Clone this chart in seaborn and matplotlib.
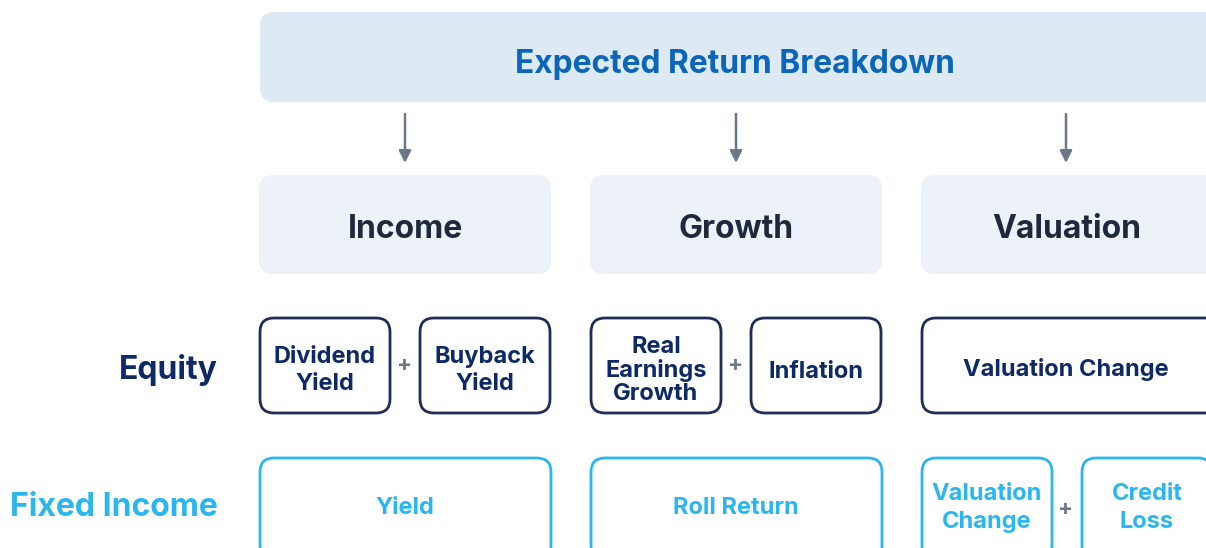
import matplotlib
matplotlib.use("Agg")
import matplotlib.pyplot as plt
from matplotlib.patches import FancyBboxPatch
import seaborn as sns

sns.set_theme(style="white")
plt.rcParams['font.family'] = ['Inter', 'DejaVu Sans']

# ---- content ----
title = "Expected Return Breakdown"
categories = ["Income", "Growth", "Valuation"]
row_labels = ["Equity", "Fixed Income"]
equity_items = [["Dividend\nYield", "Buyback\nYield"],
                ["Real\nEarnings\nGrowth", "Inflation"],
                ["Valuation Change"]]
fixed_items = [["Yield"], ["Roll Return"], ["Valuation\nChange", "Credit\nLoss"]]

# ---- styles ----
C_TITLE = "#0B65B8"
C_BANNER = "#DDE9F3"
C_CAT_BG = "#EDF2F9"
C_CAT_TXT = "#1E2A3B"
C_NAVY = "#0E2A66"
C_NAVY_EDGE = "#1F2D57"
C_SKY = "#2AB6EE"
C_GREY = "#6B7888"
FW = "bold"

W, H = 1206, 548
fig = plt.figure(figsize=(W / 100, H / 100), dpi=100)
ax = fig.add_axes([0, 0, 1, 1])
ax.set_xlim(0, W)
ax.set_ylim(H, 0)
ax.axis("off")

def rbox(x0, y0, x1, y1, fc, ec, lw, r):
    p = FancyBboxPatch((x0 + r, y0 + r), (x1 - x0) - 2 * r, (y1 - y0) - 2 * r,
                       boxstyle=f"round,pad={r}", fc=fc, ec=ec, lw=lw,
                       mutation_aspect=1, clip_on=True)
    ax.add_patch(p)

# banner
rbox(260, 12, 1230, 102, C_BANNER, "none", 0, 14)
ax.text(735, 64, title, ha="center", va="center", fontsize=22.8, fontweight=FW,
        color=C_TITLE)

col_x = [(259, 551), (590, 882), (921, 1230)]
centers = [405, 736, 1066]

for (x0, x1), cx, cat in zip(col_x, centers, categories):
    ax.annotate("", xy=(cx, 163), xytext=(cx, 114),
                arrowprops=dict(arrowstyle="-|>,head_length=0.6,head_width=0.3",
                                color=C_GREY, lw=1.8, shrinkA=0, shrinkB=0))
    rbox(x0, 175, x1, 274, C_CAT_BG, "none", 0, 14)
    ax.text((x0 + min(x1, 1212)) / 2, 229, cat, ha="center", va="center",
            fontsize=23, fontweight=FW, color=C_CAT_TXT)

def row(items, y0, y1, ec, tc, linesp, ls3, dy_single, dy_multi, dy_one):
    for (x0, x1), cx, its in zip(col_x, centers, items):
        ym = (y0 + y1) / 2
        if len(its) == 1:
            rbox(x0 + 1, y0, x1, y1, "white", ec, 2.0, 14)
            ax.text((x0 + min(x1, 1210)) / 2, ym + dy_single, its[0], ha="center",
                    va="center", fontsize=17, fontweight=FW, color=tc)
        else:
            w = 130
            pos = [(x0 + 1, x0 + 1 + w), (x0 + 161, x0 + 161 + w)]
            for (a, b), t in zip(pos, its):
                n = t.count("\n") + 1
                ls = ls3 if n == 3 else linesp
                dy = dy_one if n == 1 else dy_multi
                rbox(a, y0, b, y1, "white", ec, 2.0, 14)
                ax.text((a + b) / 2, ym + dy, t, ha="center", va="center",
                        fontsize=17, fontweight=FW, color=tc, linespacing=ls)
            ax.text(cx, ym, "+", ha="center", va="center", fontsize=16,
                    fontweight="bold", color=C_GREY)

row(equity_items, 318, 413, C_NAVY_EDGE, C_NAVY, 1.35, 1.07, 4, 5, 6)
row(fixed_items, 458, 560, C_SKY, C_SKY, 1.3, 1.07, -1, -1, -1)

ax.text(218, 370, row_labels[0], ha="right", va="center", fontsize=23,
        fontweight=FW, color=C_NAVY)
ax.text(218, 507, row_labels[1], ha="right", va="center", fontsize=23,
        fontweight=FW, color=C_SKY)

fig.savefig("out.png", dpi=100)
